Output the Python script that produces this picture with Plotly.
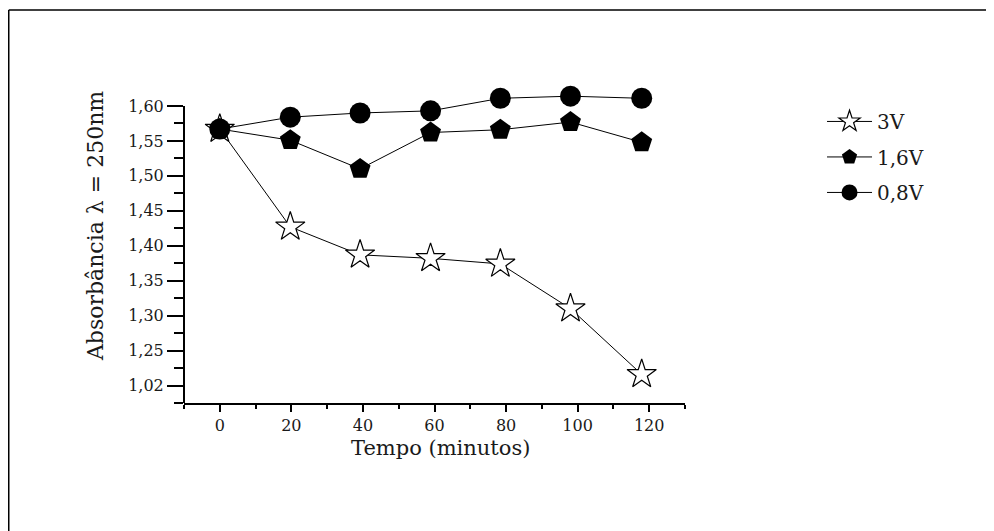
import plotly.graph_objects as go

# Data
tempo = [0, 19.7, 39.2, 58.9, 78.4, 98.0, 117.9]
abs_3v = [1.567, 1.427, 1.387, 1.382, 1.374, 1.310, 1.216]
abs_16v = [1.567, 1.551, 1.510, 1.562, 1.566, 1.577, 1.548]
abs_08v = [1.567, 1.584, 1.590, 1.593, 1.611, 1.614, 1.611]

series_names = ["3V", "1,6V", "0,8V"]
x_tickvals = [0, 20, 40, 60, 80, 100, 120]
x_ticktext = ["0", "20", "40", "60", "80", "100", "120"]
y_tickvals = [1.20, 1.25, 1.30, 1.35, 1.40, 1.45, 1.50, 1.55, 1.60]
y_ticktext = ["1,02", "1,25", "1,30", "1,35", "1,40", "1,45", "1,50", "1,55", "1,60"]

FONT = "DejaVu Serif"
INK = "#1a1a1a"

fig = go.Figure()
fig.add_trace(go.Scatter(
    x=tempo, y=abs_3v, name=series_names[0], mode="lines+markers",
    line=dict(color="black", width=1), legendgroup="a",
    marker=dict(symbol="star", size=22, color="white", line=dict(color="black", width=1.2)),
    cliponaxis=False))
fig.add_trace(go.Scatter(
    x=tempo, y=abs_16v, name=series_names[1], mode="lines+markers",
    line=dict(color="black", width=1), legendgroup="b",
    marker=dict(symbol="pentagon", size=22, color="black", line=dict(color="black", width=0)),
    cliponaxis=False))
fig.add_trace(go.Scatter(
    x=tempo, y=abs_08v, name=series_names[2], mode="lines+markers",
    line=dict(color="black", width=1), legendgroup="c",
    marker=dict(symbol="circle", size=21, color="black", line=dict(color="black", width=0)),
    cliponaxis=False))

fig.update_layout(
    width=986, height=523,
    margin=dict(l=176, r=309, t=84, b=128),
    paper_bgcolor="white", plot_bgcolor="white",
    font=dict(family=FONT, color=INK, size=16),
    showlegend=True,
    legend=dict(x=1.2735, y=0.968, xanchor="left", yanchor="top",
                font=dict(family=FONT, size=20, color=INK),
                itemwidth=45, tracegroupgap=6.5, bgcolor="rgba(0,0,0,0)"),
    xaxis=dict(range=[-10, 130], tickvals=x_tickvals, ticktext=x_ticktext,
               showgrid=False, zeroline=False, showline=True, linecolor="black", linewidth=2,
               ticks="outside", ticklen=7, tickwidth=2, tickcolor="black",
               tickfont=dict(family=FONT, size=16, color=INK),
               minor=dict(tick0=-10, dtick=20, ticks="outside", ticklen=4, tickwidth=2,
                          tickcolor="black", showgrid=False)),
    yaxis=dict(range=[1.175, 1.62], tickvals=y_tickvals, ticktext=y_ticktext,
               showgrid=False, zeroline=False, showline=False,
               ticks="outside", ticklen=16, tickwidth=2, tickcolor="black",
               tickfont=dict(family=FONT, size=16, color=INK),
               minor=dict(tick0=1.175, dtick=0.05, ticks="outside", ticklen=9, tickwidth=2,
                          tickcolor="black", showgrid=False)),
)

# y axis line (ends at 1,60)
fig.add_shape(type="line", xref="paper", yref="y", x0=0, x1=0, y0=1.175, y1=1.60,
              line=dict(color="black", width=2))
# page border (top and left edges)
fig.add_shape(type="line", xref="paper", yref="paper", x0=-0.3498, x1=2.0, y0=1.2637, y1=1.2637,
              line=dict(color="black", width=1.5))
fig.add_shape(type="line", xref="paper", yref="paper", x0=-0.3498, x1=-0.3498, y0=-1.0, y1=1.2637,
              line=dict(color="black", width=1.5))

fig.add_annotation(text="Absorbância λ = 250nm", xref="paper", yref="paper",
                   x=-0.1776, y=0.569, textangle=-90, showarrow=False,
                   xanchor="center", yanchor="middle",
                   font=dict(family=FONT, size=22, color=INK))
fig.add_annotation(text="Tempo (minutos)", xref="paper", yref="paper",
                   x=0.511, y=-0.1447, showarrow=False,
                   xanchor="center", yanchor="middle",
                   font=dict(family=FONT, size=21, color=INK))

fig.write_html("out.html")
